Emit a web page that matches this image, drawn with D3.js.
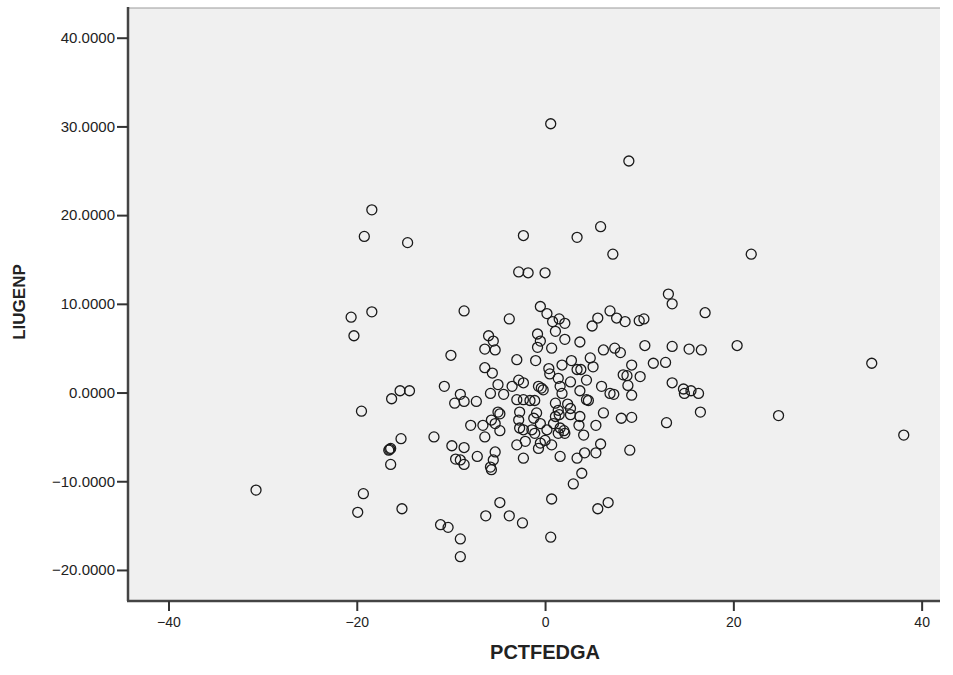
<!DOCTYPE html>
<html>
<head>
<meta charset="utf-8">
<script src="https://cdn.jsdelivr.net/npm/d3@7"></script>
<style>
  body { margin: 0; background: #fff; }
  .tick text { font-family: "Liberation Sans", Arial, sans-serif; fill: #222; }
  .axis-title { font-family: "Liberation Sans", Arial, sans-serif; font-weight: bold; fill: #222; }
</style>
</head>
<body>
<svg id="chart"></svg>
<script>
// values
const pctfedga = [
  0.6, 8.9, -18.4, -19.2, -14.6, 5.9, -2.3, 3.4, 7.2, 21.9,
  -2.8, -1.8, 0.0, 13.1, 13.5, -20.6, -18.4, -20.3, -8.6, -3.8,
  17.0, -0.5, 0.2, 0.8, 1.5, 2.1, 1.1, 2.1, -0.8, -0.5,
  -0.8, 0.7, 3.7, 5.0, 5.6, 6.9, 7.6, 8.5, 10.0, 10.5,
  -6.0, -5.5, -6.4, -5.3, 6.2, 7.4, 8.0, 10.6, 13.5, 15.3,
  16.6, 20.4, -10.0, -3.0, -1.0, 1.8, 2.8, 3.4, 3.8, 4.8,
  5.1, 0.4, 0.5, -6.4, -5.6, 9.2, 8.3, 8.7, 10.1, 11.5,
  12.8, 34.7, 13.5, 14.7, 14.8, 15.5, 16.3, 16.5, 12.9, 24.8,
  38.1, 9.0, 9.2, 8.8, 6.0, 6.9, 7.3, 6.2, 8.1, 9.2,
  5.4, 5.9, 5.4, 4.2, 3.4, 3.9, 3.0, 6.7, 5.6, 0.7,
  0.6, -4.8, -6.3, -3.8, -2.4, -11.1, -10.3, -9.0, -9.0, -15.2,
  -19.9, -19.3, -30.7, -16.4, -16.5, -16.4, -16.6, -15.3, -19.5, -16.3,
  -15.4, -14.4, -10.7, -9.0, -9.6, -8.6, -7.3, -7.9, -6.6, -11.8,
  -9.9, -8.6, -9.5, -9.0, -8.6, -7.2, -5.3, -5.5, -5.8, -5.7,
  -6.4, -4.8, -5.7, -5.3, -5.0, -4.8, -5.8, -5.0, -4.4, -3.5,
  -2.8, -2.3, -0.7, -0.4, -3.0, -2.3, -1.6, -1.1, 1.4, 1.6,
  1.8, 1.1, 2.4, -2.7, -0.9, 1.4, -2.8, -2.7, -2.3, -3.0,
  -2.1, -2.3, -1.2, -0.5, -1.4, -1.1, -0.5, -0.7, 0.0, 0.7,
  0.2, 0.9, 1.1, 1.4, 1.6, 2.1, 1.6, 1.5, 2.7, 3.7,
  3.6, 4.1, 2.0, 2.7, 4.4, 3.7, 2.7, 4.4, 4.6, -0.2
];
const liugenp = [
  30.3, 26.1, 20.6, 17.6, 16.9, 18.7, 17.7, 17.5, 15.6, 15.6,
  13.6, 13.5, 13.5, 11.1, 10.0, 8.5, 9.1, 6.4, 9.2, 8.3,
  9.0, 9.7, 8.9, 8.0, 8.3, 7.8, 6.9, 6.0, 6.6, 5.8,
  5.1, 5.0, 5.7, 7.5, 8.4, 9.2, 8.4, 8.0, 8.1, 8.3,
  6.4, 5.8, 4.9, 4.8, 4.8, 5.0, 4.5, 5.3, 5.2, 4.9,
  4.8, 5.3, 4.2, 3.7, 3.6, 3.1, 3.6, 2.6, 2.6, 3.9,
  2.9, 2.7, 2.1, 2.8, 2.2, 3.1, 2.0, 1.9, 1.8, 3.3,
  3.4, 3.3, 1.1, 0.4, -0.1, 0.2, -0.1, -2.2, -3.4, -2.6,
  -4.8, -6.5, -0.3, 0.8, 0.7, -0.1, -0.2, -2.3, -2.9, -2.8,
  -3.7, -5.8, -6.8, -6.8, -7.4, -9.1, -10.3, -12.4, -13.1, -12.0,
  -16.3, -12.4, -13.9, -13.9, -14.7, -14.9, -15.2, -16.5, -18.5, -13.1,
  -13.5, -11.4, -11.0, -8.1, -6.4, -6.3, -6.5, -5.2, -2.1, -0.7,
  0.2, 0.2, 0.7, -0.2, -1.2, -1.0, -1.0, -3.7, -3.7, -5.0,
  -6.0, -6.2, -7.5, -7.6, -8.1, -7.2, -6.7, -7.6, -8.4, -8.7,
  -5.0, -4.3, -3.1, -3.5, -2.2, -2.4, -0.1, 0.9, -0.2, 0.7,
  1.4, 1.1, 0.7, 0.5, -0.8, -0.8, -0.9, -0.9, 1.6, 0.7,
  -0.1, -1.2, -1.3, -2.2, -2.3, -2.0, -3.1, -4.0, -4.2, -5.9,
  -5.5, -7.4, -2.9, -3.5, -4.2, -4.6, -5.7, -6.3, -5.4, -5.9,
  -4.2, -3.5, -2.7, -4.6, -4.0, -4.6, -7.2, -2.5, -2.5, -2.7,
  -3.7, -4.8, -4.3, 1.2, 1.4, 0.2, -1.8, -0.8, -0.9, 0.3
];
const xTicks = [-40, -20, 0, 20, 40];
const yTicks = [-20, -10, 0, 10, 20, 30, 40];

const W = 953, H = 675;
const frame = { left: 128, right: 940, top: 8, bottom: 601 };

const svg = d3.select("#chart").attr("width", W).attr("height", H);

const x = d3.scaleLinear().domain([-44.3, 41.95]).range([frame.left, frame.right]);
const y = d3.scaleLinear().domain([-23.5, 43.35]).range([frame.bottom, frame.top]);

// plot background
svg.append("rect")
    .attr("x", frame.left)
    .attr("y", frame.top)
    .attr("width", frame.right - frame.left)
    .attr("height", frame.bottom - frame.top)
    .style("fill", "#f0f0f0");
svg.append("line")
    .attr("x1", frame.left).attr("x2", frame.right)
    .attr("y1", frame.top).attr("y2", frame.top)
    .style("stroke", "#9a9a9a").style("stroke-width", 1);

// points
const points = pctfedga.map((v, i) => ({ x: v, y: liugenp[i] }));
svg.append("g")
    .selectAll("circle")
    .data(points)
    .enter()
    .append("circle")
    .attr("cx", d => x(d.x))
    .attr("cy", d => y(d.y))
    .attr("r", 5)
    .style("fill", "none")
    .style("stroke", "#1a1a1a")
    .style("stroke-width", 1.3);

// axes
const yAxis = svg.append("g")
    .attr("transform", `translate(${frame.left},0)`)
    .call(d3.axisLeft(y).tickValues(yTicks).tickFormat(d3.format(".4f")).tickSize(11).tickPadding(2));
yAxis.selectAll("text").style("font-size", "15px");

const xAxis = svg.append("g")
    .attr("transform", `translate(0,${frame.bottom})`)
    .call(d3.axisBottom(x).tickValues(xTicks).tickFormat(d3.format("d")).tickSize(10).tickPadding(6));
xAxis.selectAll("text").style("font-size", "14px");

[yAxis, xAxis].forEach(g => {
    g.select("path.domain").style("stroke", "#444").style("stroke-width", 2.5);
    g.selectAll(".tick line").style("stroke", "#333").style("stroke-width", 2);
});
// stretch the axis lines across the whole frame
yAxis.select("path.domain").attr("d", `M0,${frame.top - 1}V${frame.bottom}`);
xAxis.select("path.domain").attr("d", `M${frame.left - 1},0H${frame.right}`);

// titles
svg.append("text")
    .attr("class", "axis-title")
    .attr("x", x(0))
    .attr("y", 659)
    .attr("text-anchor", "middle")
    .style("font-size", "20px")
    .text("PCTFEDGA");

svg.append("text")
    .attr("class", "axis-title")
    .attr("transform", `translate(25,302) rotate(-90)`)
    .attr("text-anchor", "middle")
    .style("font-size", "17px")
    .text("LIUGENP");
</script>
</body>
</html>
